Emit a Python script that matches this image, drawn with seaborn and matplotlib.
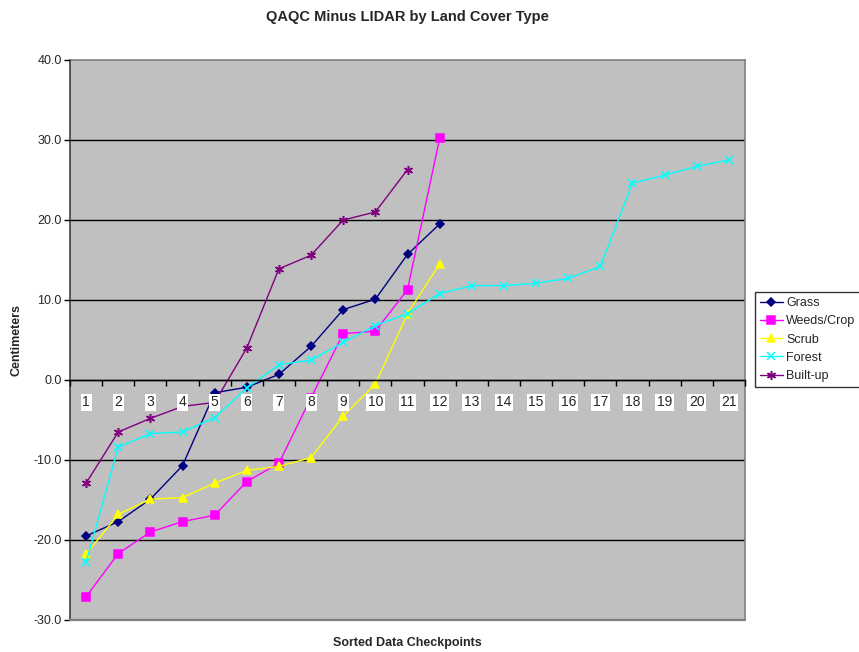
import numpy as np
import pandas as pd
import matplotlib
matplotlib.use("Agg")
import matplotlib.pyplot as plt
import seaborn as sns

# ---- data ----
series_names = ["Grass", "Weeds/Crop", "Scrub", "Forest", "Built-up"]
grass = [-19.5, -17.7, -14.9, -10.7, -1.6, -0.9, 0.7, 4.2, 8.8, 10.1, 15.7, 19.5]
weeds = [-27.1, -21.7, -19.0, -17.7, -16.9, -12.7, -10.4, -2.2, 5.8, 6.1, 11.3, 30.2]
scrub = [-21.8, -16.8, -14.9, -14.7, -12.9, -11.3, -10.8, -9.7, -4.5, -0.5, 8.3, 14.5]
forest = [-22.8, -8.4, -6.7, -6.5, -4.7, -1.0, 1.9, 2.5, 4.7, 6.8, 8.3, 10.8,
          11.8, 11.8, 12.1, 12.7, 14.2, 24.6, 25.6, 26.7, 27.5]
builtup = [-12.9, -6.5, -4.8, -3.3, -2.8, 4.0, 13.9, 15.6, 20.0, 21.0, 26.3]
categories = list(range(1, 22))
yticks = [-30, -20, -10, 0, 10, 20, 30, 40]

values = [grass, weeds, scrub, forest, builtup]
rows = []
for name, vals in zip(series_names, values):
    for i, v in enumerate(vals):
        rows.append({"Checkpoint": categories[i], "Value": v, "Type": name})
df = pd.DataFrame(rows)

palette = {"Grass": "#000080", "Weeds/Crop": "#FF00FF", "Scrub": "#FFFF00",
           "Forest": "#00FFFF", "Built-up": "#800080"}
markers = {"Grass": "D", "Weeds/Crop": "s", "Scrub": "^", "Forest": "x",
           "Built-up": (6, 2, 0)}
msizes = {"Grass": 4.5, "Weeds/Crop": 5.5, "Scrub": 6, "Forest": 6, "Built-up": 6.5}

sns.set_theme(style="white")
plt.rcParams["font.family"] = ["Liberation Sans", "DejaVu Sans"]

fig = plt.figure(figsize=(8.59, 6.52), dpi=100)
ax = fig.add_axes([70 / 859, 1 - 620 / 652, 675 / 859, 560 / 652])
ax.set_facecolor("#C0C0C0")

for name in series_names:
    sub = df[df["Type"] == name]
    c = palette[name]
    sns.lineplot(data=sub, x="Checkpoint", y="Value", color=c,
                 marker=markers[name], markersize=msizes[name],
                 markeredgecolor=c, markerfacecolor=c, markeredgewidth=1.1,
                 linewidth=1.0, ax=ax, label=name, zorder=2)

# grid lines
for yv in yticks[1:-1]:
    ax.axhline(yv, color="black", lw=1.0, zorder=1)

ax.set_xlim(0.5, 21.5)
ax.set_ylim(-30, 40)
ax.set_yticks(yticks)
ax.set_yticklabels([f"{v:.1f}" for v in yticks], fontsize=9)
ax.tick_params(axis="y", direction="out", length=4, width=1, color="black",
               left=True, pad=2)

# x axis at zero
ax.spines["bottom"].set_position(("data", 0))
ax.spines["bottom"].set_color("black")
ax.spines["bottom"].set_linewidth(1.0)
ax.spines["left"].set_color("#404040")
ax.spines["left"].set_linewidth(1.2)
for s in ["top", "right"]:
    ax.spines[s].set_color("#808080")
    ax.spines[s].set_linewidth(1.2)
ax.axhline(-30, color="#808080", lw=1.6, zorder=3, clip_on=False)

ax.set_xticks(categories)
ax.set_xticklabels([str(c) for c in categories], fontsize=10)
ax.set_xticks(np.arange(0.5, 22, 1.0), minor=True)
ax.tick_params(axis="x", which="major", length=0, pad=11)
ax.tick_params(axis="x", which="minor", direction="out", length=4, width=1,
               color="black", bottom=True)
for lbl in ax.get_xticklabels():
    lbl.set_bbox(dict(facecolor="white", edgecolor="none", pad=1.2))
ax.set_axisbelow(False)

ax.set_xlabel("Sorted Data Checkpoints", fontsize=9, fontweight="bold")
ax.xaxis.set_label_coords(0.5, -0.030)
ax.set_ylabel("Centimeters", fontsize=9, fontweight="bold")
ax.yaxis.set_label_coords(-0.07, 0.5)
ax.set_title("QAQC Minus LIDAR by Land Cover Type", fontsize=10.5,
             fontweight="bold", pad=28)

handles, labels = ax.get_legend_handles_labels()
if ax.get_legend() is not None:
    ax.get_legend().remove()
leg = fig.legend(handles, labels, loc="upper left",
                 bbox_to_anchor=(755 / 859, 1 - 292 / 652),
                 fontsize=9, frameon=True, fancybox=False, shadow=False,
                 borderpad=0.4, labelspacing=0.5, handlelength=1.8,
                 handletextpad=0.3, borderaxespad=0)
leg.get_frame().set_edgecolor("black")
leg.get_frame().set_linewidth(1.0)
leg.get_frame().set_facecolor("white")

fig.savefig("out.png", dpi=100)
